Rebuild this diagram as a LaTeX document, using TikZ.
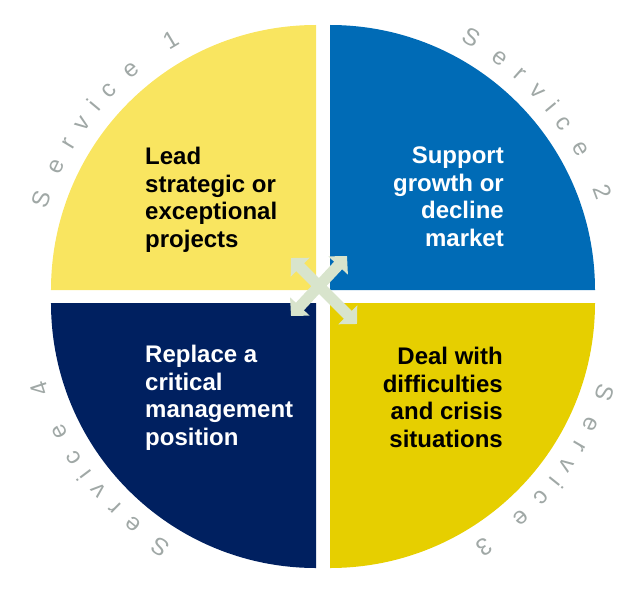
\documentclass[tikz,border=0pt]{standalone}
\usepackage{fontspec}
\setmainfont{Liberation Sans}
\usetikzlibrary{arrows.meta, decorations.text}
\definecolor{quadyellow}{RGB}{249,229,96}
\definecolor{quadblue}{RGB}{0,107,182}
\definecolor{quadnavy}{RGB}{0,32,96}
\definecolor{quadmustard}{RGB}{230,207,0}
\definecolor{crossgreen}{RGB}{216,228,204}
\definecolor{servicegray}{RGB}{160,168,166}
\tikzset{
  quadtext/.style={
    inner sep=0pt, font=\fontsize{24}{27.5}\selectfont\bfseries
  },
  crossarrow/.style={
    {Triangle[width=26pt,length=13pt]}-{Triangle[width=26pt,length=13pt]},
    line width=11pt, draw=crossgreen
  },
  servicelabel/.style={
    decorate, decoration={text effects along path, text={#1},
      text effects/.cd, fit text to path,
      characters={text along path, text=servicegray,
        font=\fontsize{24}{24}\selectfont}}
  }
}

\begin{document}
\begin{tikzpicture}[x=1pt, y=1pt]
    % Four quarter discs round the centre
    \useasboundingbox (-323,-295.5) rectangle (321,296.5);
    \fill[quadyellow]  (-7,6.5) -- ++(-265,0) arc (180:90:265) -- cycle;
    \fill[quadblue]    (7,6.5) -- ++(0,265) arc (90:0:265) -- cycle;
    \fill[quadmustard] (7,-6.5) -- ++(265,0) arc (0:-90:265) -- cycle;
    \fill[quadnavy]    (-7,-6.5) -- ++(0,-265) arc (270:180:265) -- cycle;

    \node[quadtext, anchor=north west, align=left] (lead) at (-178,149.5)
      {Lead\\strategic or\\exceptional\\projects};
    \node[quadtext, anchor=north east, align=right, text=white] (support) at (181,149.5)
      {Support\\growth or\\decline\\market};
    \node[quadtext, anchor=north west, align=left, text=white] (replace) at (-178,-48.5)
      {Replace a\\critical\\management\\position};
    \node[quadtext, anchor=north east, align=right] (deal) at (180,-50.5)
      {Deal with\\difficulties\\and crisis\\situations};

    % Service names along the rim
    \path[servicelabel={Service 1}] (162.5:290) arc (162.5:119.4:290);
    \path[servicelabel={Service 2}] (61.8:290) arc (61.8:19.2:290);
    \path[servicelabel={Service 3}] (-17.3:290) arc (-17.3:-58.5:290);
    \path[servicelabel={Service 4}] (238.6:290) arc (238.6:196.7:290);

    % Centre cross
    \coordinate (xsw) at (-32,-19.5);
    \coordinate (xne) at (24,40.5);
    \coordinate (xnw) at (-32,38.5);
    \coordinate (xse) at (34,-27.5);
    \draw[crossarrow] (xsw) -- (xne);
    \draw[crossarrow] (xnw) -- (xse);
\end{tikzpicture}
\end{document}
